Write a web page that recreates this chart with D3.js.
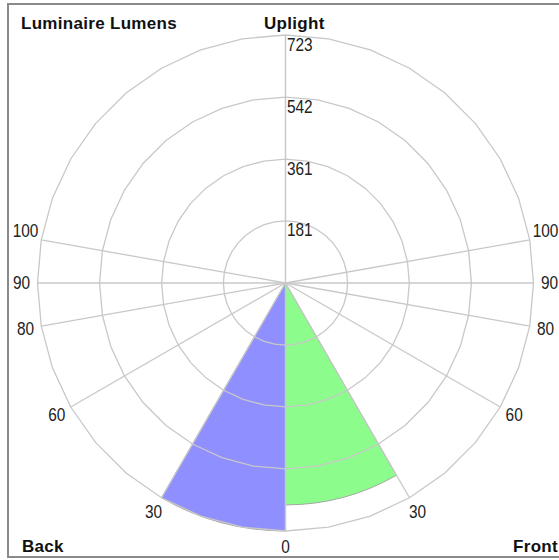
<!DOCTYPE html>
<html>
<head>
<meta charset="utf-8">
<script src="https://cdn.jsdelivr.net/npm/d3@7"></script>
<style>
  html, body { margin: 0; padding: 0; background: #fff; }
  svg { display: block; }
  text { font-family: "Liberation Sans", Arial, sans-serif; }
</style>
</head>
<body>
<svg id="chart" width="559" height="560"></svg>
<script>
// ---- data ----
const title = "Luminaire Lumens";
const topLabel = "Uplight";
const sideLabels = ["Back", "Front"];
const ringLabels = [181, 361, 542, 723];
const maxLumens = 723;
const spokeAngles = [0, 30, 60, 80, 90, 100];      // degrees from nadir, both sides
const zoneNames = ["Back", "Front"];
const zoneLumens = [723, 647];
const zoneStart = [0, 0];
const zoneEnd = [30, 30];
const zoneColors = ["#8f8fff", "#8cfc8c"];

// ---- layout ----
const svg = d3.select("#chart");
const cx = 285.5, cy = 283, R = 248;
const r = d3.scaleLinear().domain([0, maxLumens]).range([0, R]);
const rad = d => d * Math.PI / 180;
const pt = (theta, rr, side) => [cx + side * rr * Math.sin(rad(theta)), cy + rr * Math.cos(rad(theta))];

// frame
svg.append("rect").attr("x", 8).attr("y", 4).attr("width", 600).attr("height", 553)
  .attr("fill", "none").attr("stroke", "#8a8a8a").attr("stroke-width", 2);

const g = svg.append("g").attr("transform", `translate(${cx},${cy})`);

// wedges
const arc = d3.arc().innerRadius(0);
zoneNames.forEach((name, i) => {
  const side = name === "Front" ? 1 : -1;
  const a0 = Math.PI - side * rad(zoneStart[i]);
  const a1 = Math.PI - side * rad(zoneEnd[i]);
  g.append("path")
    .attr("d", arc({ outerRadius: r(zoneLumens[i]), startAngle: Math.min(a0, a1), endAngle: Math.max(a0, a1) }))
    .attr("fill", zoneColors[i])
    .attr("stroke", "#a8a8a8").attr("stroke-width", 1);
});

// rings (slightly polygonal, vertices every 10 degrees)
const polyAngles = d3.range(0, 360, 10);
const ringLine = d3.lineRadial().curve(d3.curveLinearClosed)
  .angle(d => rad(d[0])).radius(d => d[1]);
const gridColor = "#c8c8c8";
ringLabels.forEach(v => {
  g.append("path")
    .attr("d", ringLine(polyAngles.map(a => [a, r(v)])))
    .attr("fill", "none").attr("stroke", gridColor).attr("stroke-width", 1.3);
});

// spokes
[-1, 1].forEach(side => {
  spokeAngles.forEach(t => {
    const [x, y] = pt(t, R, side);
    svg.append("line").attr("x1", cx).attr("y1", cy).attr("x2", x).attr("y2", y)
      .attr("stroke", gridColor).attr("stroke-width", 1.3);
  });
});
svg.append("line").attr("x1", cx).attr("y1", cy).attr("x2", cx).attr("y2", cy - R)
  .attr("stroke", gridColor).attr("stroke-width", 1.5);

// ring labels
ringLabels.forEach(v => {
  svg.append("text")
    .attr("transform", `translate(${cx + 1.5},${cy - r(v) + 15.5}) scale(0.88,1)`)
    .attr("font-size", 17.5).attr("fill", "#222")
    .text(v);
});

// spoke labels
const spokeLabelItems = [];
[-1, 1].forEach(side => spokeAngles.forEach(t => {
  if (t === 0 && side === 1) return;
  spokeLabelItems.push({ t, side });
}));
spokeLabelItems.forEach(({ t, side }) => {
  let [x, y] = pt(t, R + 16, side);
  if (t > 90) y -= 7;
  svg.append("text")
    .attr("transform", `translate(${x},${y}) scale(0.88,1)`)
    .attr("text-anchor", "middle").attr("dominant-baseline", "central")
    .attr("font-size", 17.5).attr("fill", "#222")
    .text(t);
});

// titles
const bold = (x, y, txt, anchor) => svg.append("text").attr("x", x).attr("y", y)
  .attr("text-anchor", anchor || "start").attr("font-size", 17).attr("font-weight", "bold")
  .attr("letter-spacing", 0.3).attr("fill", "#111").text(txt);
bold(21, 29, title);
bold(264, 29, topLabel);
bold(22, 552, sideLabels[0]);
bold(558, 552, sideLabels[1], "end");
</script>
</body>
</html>
